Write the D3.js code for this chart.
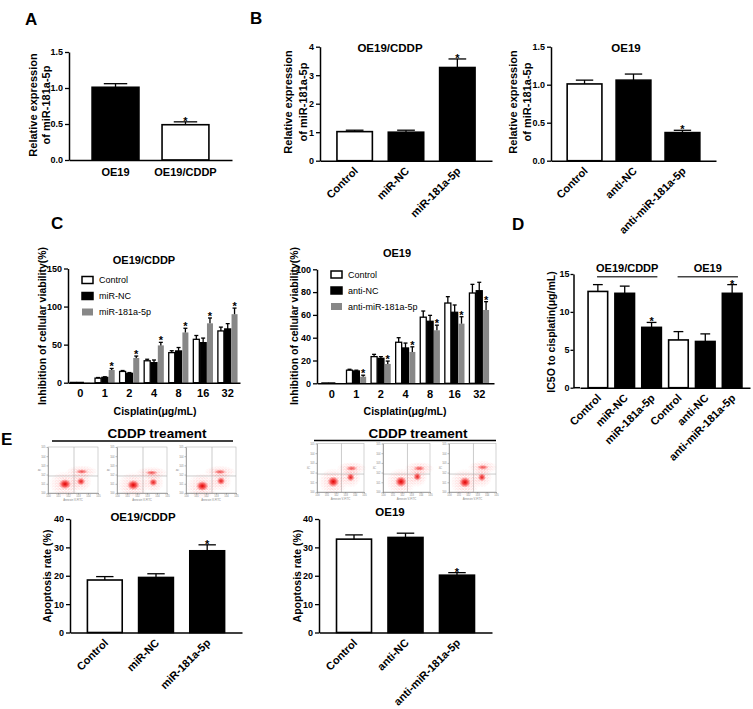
<!DOCTYPE html>
<html><head><meta charset="utf-8">
<script src="https://d3js.org/d3.v7.min.js"></script>
<style>body{margin:0;background:#fff;} svg{display:block}</style>
</head><body>
<svg id="fig" width="753" height="709" xmlns="http://www.w3.org/2000/svg"></svg>
<script>
// ---------------- DATA ----------------
const aCategories = ["OE19","OE19/CDDP"];
const aValues = [1.01, 0.49];
const aErrors = [0.05, 0.04];
const aStars = [false, true];
const aTicks = [0, 0.5, 1.0, 1.5];

const bLeftTitle = "OE19/CDDP";
const bLeftCategories = ["Control","miR-NC","miR-181a-5p"];
const bLeftValues = [1.02, 1.00, 3.27];
const bLeftErrors = [0.05, 0.07, 0.30];
const bLeftStars = [false, false, true];
const bLeftTicks = [0,1,2,3,4];
const bRightTitle = "OE19";
const bRightCategories = ["Control","anti-NC","anti-miR-181a-5p"];
const bRightValues = [1.01, 1.06, 0.37];
const bRightErrors = [0.05, 0.08, 0.03];
const bRightStars = [false, false, true];
const bRightTicks = [0, 0.5, 1.0, 1.5];

const cDoses = ["0","1","2","4","8","16","32"];
const cLeftTitle = "OE19/CDDP";
const cLeftSeriesNames = ["Control","miR-NC","miR-181a-5p"];
const cLeftControl    = [0.4, 6.0, 14.8, 28.8, 39.5, 57.0, 68.0];
const cLeftControlErr = [0, 0.8, 1.2, 2.0, 2.5, 5.0, 5.0];
const cLeftMiRNC      = [0.4, 7.0, 12.3, 26.3, 41.7, 52.6, 70.6];
const cLeftMiRNCErr   = [0, 0.8, 1.0, 3.5, 4.5, 6.0, 7.0];
const cLeftMiR181     = [0.4, 16.7, 32.5, 49.0, 66.0, 78.0, 90.0];
const cLeftMiR181Err  = [0, 2.0, 2.5, 4.0, 5.5, 7.0, 8.0];
const cLeftStars      = [false, true, true, true, true, true, true];
const cLeftTicks = [0,50,100,150];

const cRightTitle = "OE19";
const cRightSeriesNames = ["Control","anti-NC","anti-miR-181a-5p"];
const cRightControl    = [0.3, 11.5, 23.4, 36.0, 58.0, 70.4, 79.2];
const cRightControlErr = [0, 0.8, 2.0, 4.0, 5.4, 5.6, 7.6];
const cRightAntiNC     = [0.3, 10.8, 21.9, 31.0, 54.4, 62.3, 81.2];
const cRightAntiNCErr  = [0, 0.7, 1.5, 4.3, 5.2, 6.4, 7.4];
const cRightAntiMiR    = [0.3, 5.8, 17.0, 27.5, 46.5, 52.3, 64.3];
const cRightAntiMiRErr = [0, 1.3, 2.5, 4.5, 4.5, 6.1, 7.3];
const cRightStars      = [false, true, true, true, true, true, true];
const cRightTicks = [0,20,40,60,80,100];
const cXTitle = "Cisplatin(μg/mL)";
const cYTitle = "Inhibition of cellular viability(%)";

const dCategories = ["Control","miR-NC","miR-181a-5p","Control","anti-NC","anti-miR-181a-5p"];
const dValues = [12.7, 12.45, 7.96, 6.3, 6.1, 12.45];
const dErrors = [0.9, 0.95, 0.65, 1.1, 1.0, 1.15];
const dStars = [false, false, true, false, false, true];
const dWhite = [true, false, false, true, false, false];
const dGroupNames = ["OE19/CDDP","OE19"];
const dTicks = [0,5,10,15];

const eTreatment = "CDDP treament";
const eLeftTitle = "OE19/CDDP";
const eLeftCategories = ["Control","miR-NC","miR-181a-5p"];
const eLeftValues = [18.5, 19.4, 28.8];
const eLeftErrors = [1.2, 1.3, 2.1];
const eLeftStars = [false, false, true];
const eRightTitle = "OE19";
const eRightCategories = ["Control","anti-NC","anti-miR-181a-5p"];
const eRightValues = [32.9, 33.5, 20.2];
const eRightErrors = [1.5, 1.5, 0.9];
const eRightStars = [false, false, true];
const eTicks = [0,10,20,30,40];

// flow cytometry dot plots: cluster centres (log Annexin V-FITC, log PI)
const flowLeftLive  = [[1.70,0.97],[1.63,0.87],[1.63,0.76]];
const flowLeftEarly = [[3.30,1.25],[3.63,1.16],[3.50,1.30]];
const flowLeftLate  = [[3.38,2.33],[3.47,2.20],[3.40,2.30]];
const flowRightLive  = [[1.73,1.06],[1.91,1.06],[1.70,1.00]];
const flowRightEarly = [[3.58,1.52],[3.65,1.58],[3.50,1.52]];
const flowRightLate  = [[3.69,2.44],[3.86,2.44],[3.60,2.55]];
const flowGate = [2.6, 1.85];

// ---------------- DRAWING ----------------
const FF = "'Liberation Sans', Arial, Helvetica, sans-serif";
const svg = d3.select("#fig").attr("font-family", FF);

const defs = svg.append("defs");
const rg = defs.append("radialGradient").attr("id","blob");
rg.append("stop").attr("offset","0%").attr("stop-color","#e00000").attr("stop-opacity",1);
rg.append("stop").attr("offset","45%").attr("stop-color","#f01010").attr("stop-opacity",0.7);
rg.append("stop").attr("offset","100%").attr("stop-color","#ff3030").attr("stop-opacity",0);
const fg = defs.append("radialGradient").attr("id","fadeGrad");
fg.append("stop").attr("offset","0%").attr("stop-color","#fff").attr("stop-opacity",1);
fg.append("stop").attr("offset","100%").attr("stop-color","#fff").attr("stop-opacity",0);
defs.append("mask").attr("id","fade").attr("maskContentUnits","objectBoundingBox")
  .append("rect").attr("width",1).attr("height",1).attr("fill","url(#fadeGrad)");
const pat = defs.append("pattern").attr("id","speck").attr("patternUnits","userSpaceOnUse")
  .attr("width",3.2).attr("height",2.8);
[[0.4,0.5],[1.9,1.1],[1.0,2.2],[2.7,2.0]].forEach(p =>
  pat.append("rect").attr("x",p[0]).attr("y",p[1]).attr("width",0.7).attr("height",0.7).attr("fill","#f22"));

function txt(g, x, y, s, size, opts = {}) {
  return g.append("text").attr("x", x).attr("y", y).text(s)
    .attr("font-size", size).attr("font-weight", opts.weight || "bold")
    .attr("text-anchor", opts.anchor || "middle").attr("fill", opts.fill || "#000");
}
function vtxt(g, x, y, s, size) {
  return g.append("text").attr("transform", `translate(${x},${y}) rotate(-90)`)
    .attr("text-anchor", "middle").attr("font-size", size).attr("font-weight", "bold").text(s);
}
function drawYAxis(g, y, x0, ticks, fmt, tsize, tpad) {
  const a = g.append("g").attr("transform", `translate(${x0},0)`)
    .call(d3.axisLeft(y).tickValues(ticks).tickFormat(fmt).tickSize(tsize || 4).tickSizeOuter(0).tickPadding(tpad === undefined ? 2 : tpad));
  a.attr("font-family", FF);
  a.select(".domain").attr("stroke", "#000").attr("stroke-width", 1.5);
  a.selectAll(".tick line").attr("stroke", "#000").attr("stroke-width", 1.3);
  a.selectAll(".tick text").attr("font-size", 9).attr("font-weight", "bold").attr("fill", "#000");
}
function errBar(g, cx, yTop, yBar, cap) {
  g.append("line").attr("x1", cx).attr("x2", cx).attr("y1", yBar).attr("y2", yTop)
    .attr("stroke", "#000").attr("stroke-width", 1.3);
  g.append("line").attr("x1", cx - cap / 2).attr("x2", cx + cap / 2).attr("y1", yTop).attr("y2", yTop)
    .attr("stroke", "#000").attr("stroke-width", 1.3);
}
function star(g, cx, yTop, size) {
  txt(g, cx, yTop + 3, "*", size || 11);
}

function barChart(cfg) {
  const g = svg.append("g");
  const y = d3.scaleLinear().domain([0, cfg.max]).range([cfg.yb, cfg.yt]);
  const idx = cfg.cats.map((_, i) => i);
  const x = d3.scaleBand().domain(idx).range([cfg.x0, cfg.x1]).paddingInner(cfg.pi).paddingOuter(cfg.po);
  const bw = x.bandwidth();
  g.selectAll("rect.bar").data(cfg.vals).join("rect").attr("class", "bar")
    .attr("x", (d, i) => x(i)).attr("y", d => y(d))
    .attr("width", bw).attr("height", d => cfg.yb - y(d))
    .attr("fill", (d, i) => cfg.white[i] ? "#fff" : "#000")
    .attr("stroke", "#000").attr("stroke-width", 1.6);
  cfg.vals.forEach((v, i) => {
    const cx = x(i) + bw / 2;
    errBar(g, cx, y(v + cfg.errs[i]), y(v), bw * 0.5);
    if (cfg.stars[i]) star(g, cx, y(v + cfg.errs[i]));
  });
  const xa = g.append("g").attr("transform", `translate(0,${cfg.yb})`)
    .call(d3.axisBottom(x).tickSize(0).tickSizeOuter(0).tickFormat(i => cfg.cats[i]));
  xa.attr("font-family", FF);
  xa.select(".domain").attr("stroke", "#000").attr("stroke-width", 1.5);
  if (cfg.axisStart !== undefined) {
    g.append("line").attr("x1", cfg.axisStart).attr("x2", cfg.x0).attr("y1", cfg.yb).attr("y2", cfg.yb)
      .attr("stroke", "#000").attr("stroke-width", 1.5);
  }
  const tt = xa.selectAll(".tick text").attr("font-size", 11).attr("font-weight", "bold").attr("fill", "#000");
  if (cfg.rotate) tt.attr("text-anchor", "end").attr("y", 0).attr("dy", 0).attr("transform", "translate(4,11) rotate(-45)");
  else tt.attr("y", 8).attr("dy", "0.71em");
  drawYAxis(g, y, cfg.axisStart !== undefined ? cfg.axisStart : cfg.x0, cfg.ticks, cfg.fmt, cfg.tsize, cfg.tpad);
  return { g, x, y };
}

function groupedChart(cfg) {
  const g = svg.append("g");
  const y = d3.scaleLinear().domain([0, cfg.max]).range([cfg.yb, cfg.yt]);
  const xg = d3.scaleBand().domain(cfg.doses).range([cfg.x0, cfg.x1]).paddingInner(0.2).paddingOuter(cfg.po);
  const xs = d3.scaleBand().domain([0, 1, 2]).range([0, xg.bandwidth()]).paddingInner(0.12);
  const styles = [{ fill: "#fff", stroke: "#000" }, { fill: "#000", stroke: "#000" }, { fill: "#878787", stroke: "none" }];
  cfg.series.forEach((s, si) => {
    s.vals.forEach((v, di) => {
      const bx = xg(cfg.doses[di]) + xs(si);
      const w = xs.bandwidth();
      g.append("rect").attr("x", bx).attr("y", y(v)).attr("width", w).attr("height", cfg.yb - y(v))
        .attr("fill", styles[si].fill).attr("stroke", styles[si].stroke).attr("stroke-width", 1.3);
      if (s.errs[di] > 0) {
        errBar(g, bx + w / 2, y(v + s.errs[di]), y(v), 4);
        if (s.stars && s.stars[di]) star(g, bx + w / 2, y(v + s.errs[di]) - 1, 11);
      }
    });
  });
  const xa = g.append("g").attr("transform", `translate(0,${cfg.yb})`)
    .call(d3.axisBottom(xg).tickSize(0).tickSizeOuter(0));
  xa.attr("font-family", FF);
  xa.select(".domain").attr("stroke", "#000").attr("stroke-width", 1.5);
  xa.selectAll(".tick text").attr("font-size", 11).attr("font-weight", "bold").attr("fill", "#000")
    .attr("y", 7).attr("dy", "0.71em");
  drawYAxis(g, y, cfg.x0, cfg.ticks, d3.format("d"));
  cfg.series.forEach((s, si) => {
    const ly = cfg.legY + si * cfg.legStep;
    g.append("rect").attr("x", cfg.legX).attr("y", ly - 3.5).attr("width", 11).attr("height", 7)
      .attr("fill", styles[si].fill).attr("stroke", styles[si].stroke).attr("stroke-width", 1.5);
    txt(g, cfg.legX + 17, ly + 3.3, s.name, 9, { anchor: "start", weight: "normal" });
  });
  return g;
}

function flowPlot(x0, yt, w, h, live, early, late) {
  const g = svg.append("g");
  const fx = d3.scaleLinear().domain([0, 5]).range([x0, x0 + w]);
  const fy = d3.scaleLinear().domain([0, 5]).range([yt + h, yt]);
  g.append("rect").attr("x", x0).attr("y", yt).attr("width", w).attr("height", h)
    .attr("fill", "none").attr("stroke", "#b5b5b5").attr("stroke-width", 0.6);
  g.append("line").attr("x1", fx(flowGate[0])).attr("x2", fx(flowGate[0])).attr("y1", yt).attr("y2", yt + h)
    .attr("stroke", "#a8a8a8").attr("stroke-width", 0.6);
  g.append("line").attr("x1", x0).attr("x2", x0 + w).attr("y1", fy(flowGate[1])).attr("y2", fy(flowGate[1]))
    .attr("stroke", "#a8a8a8").attr("stroke-width", 0.6);
  const blobs = [
    { c: live, rx: 0.62, ry: 0.55, op: 1 },
    { c: early, rx: 0.42, ry: 0.42, op: 0.85 },
    { c: late, rx: 0.62, ry: 0.26, op: 0.6 }
  ];
  const kx = w / 5, ky = h / 5;
  blobs.forEach(b => {
    g.append("ellipse").attr("cx", fx(b.c[0])).attr("cy", fy(b.c[1]))
      .attr("rx", b.rx * kx * 2.6).attr("ry", b.ry * ky * 2.6).attr("fill", "url(#speck)")
      .attr("mask", "url(#fade)").attr("opacity", 0.9);
    g.append("ellipse").attr("cx", fx(b.c[0])).attr("cy", fy(b.c[1]))
      .attr("rx", b.rx * kx).attr("ry", b.ry * ky).attr("fill", "url(#blob)").attr("opacity", b.op);
  });
  const la = g.append("g").attr("transform", `translate(${x0},0)`)
    .call(d3.axisLeft(fy).tickValues([0, 1, 2, 3, 4, 5]).tickSize(1.5).tickSizeOuter(0).tickPadding(1)
      .tickFormat(d => "10" + d));
  const ba = g.append("g").attr("transform", `translate(0,${yt + h})`)
    .call(d3.axisBottom(fx).tickValues([0, 1, 2, 3, 4, 5]).tickSize(1.5).tickSizeOuter(0).tickPadding(1)
      .tickFormat(d => "10" + d));
  [la, ba].forEach(a => {
    a.attr("font-family", FF);
    a.select(".domain").attr("stroke", "#777").attr("stroke-width", 0.6);
    a.selectAll(".tick line").attr("stroke", "#777").attr("stroke-width", 0.5);
    a.selectAll(".tick text").attr("font-size", 2.6).attr("fill", "#888");
  });
  txt(g, x0 + w / 2, yt + h + 8, "Annexin V-FITC", 2.8, { weight: "normal", fill: "#888" });
  g.append("text").attr("transform", `translate(${x0 - 7},${yt + h / 2}) rotate(-90)`)
    .attr("text-anchor", "middle").attr("font-size", 2.8).attr("fill", "#888").text("PI");
}

// ---------- panel letters ----------
const L = svg.append("g");
txt(L, 25, 25, "A", 17, { anchor: "start" });
txt(L, 250, 23.5, "B", 17, { anchor: "start" });
txt(L, 51, 229, "C", 17, { anchor: "start" });
txt(L, 512, 229.5, "D", 17, { anchor: "start" });
txt(L, 1, 445, "E", 17, { anchor: "start" });

// ---------- A ----------
const A = barChart({ cats: aCategories, vals: aValues, errs: aErrors, stars: aStars, white: [false, true],
  max: 1.5, yb: 160, yt: 52, x0: 69, x1: 232, pi: 0.33, po: 0.33, ticks: aTicks, fmt: d3.format(".1f"), rotate: false });
vtxt(A.g, 36.5, 105, "Relative expression", 11);
vtxt(A.g, 49.5, 105, "of miR-181a-5p", 11);

// ---------- B ----------
const BL = barChart({ cats: bLeftCategories, vals: bLeftValues, errs: bLeftErrors, stars: bLeftStars, white: [true, false, false],
  max: 4, yb: 160.7, yt: 46.7, x0: 320, x1: 492, pi: 0.31, po: 0.33, ticks: bLeftTicks, fmt: d3.format("d"), rotate: true });
txt(BL.g, 390, 52, bLeftTitle, 11.5);
vtxt(BL.g, 292, 102, "Relative expression", 11);
vtxt(BL.g, 307, 102, "of miR-181a-5p", 11);

const BR = barChart({ cats: bRightCategories, vals: bRightValues, errs: bRightErrors, stars: bRightStars, white: [true, false, false],
  max: 1.5, yb: 160.7, yt: 46.7, x0: 551, x1: 716, pi: 0.29, po: 0.33, ticks: bRightTicks, fmt: d3.format(".1f"), rotate: true });
txt(BR.g, 626, 52, bRightTitle, 11.5);
vtxt(BR.g, 517, 102, "Relative expression", 11);
vtxt(BR.g, 530.5, 102, "of miR-181a-5p", 11);

// ---------- C ----------
const CL = groupedChart({ doses: cDoses, max: 150, yb: 382.7, yt: 268.5, x0: 68, x1: 240, po: 0.1, ticks: cLeftTicks,
  series: [
    { name: cLeftSeriesNames[0], vals: cLeftControl, errs: cLeftControlErr },
    { name: cLeftSeriesNames[1], vals: cLeftMiRNC, errs: cLeftMiRNCErr },
    { name: cLeftSeriesNames[2], vals: cLeftMiR181, errs: cLeftMiR181Err, stars: cLeftStars }
  ], legX: 82, legY: 280, legStep: 16 });
txt(CL, 144, 264, cLeftTitle, 11);
txt(CL, 155, 415, cXTitle, 10.5);
vtxt(CL, 46, 326, cYTitle, 10.5);

const CR = groupedChart({ doses: cDoses, max: 100, yb: 383.3, yt: 269.3, x0: 317, x1: 494, po: 0.2, ticks: cRightTicks,
  series: [
    { name: cRightSeriesNames[0], vals: cRightControl, errs: cRightControlErr },
    { name: cRightSeriesNames[1], vals: cRightAntiNC, errs: cRightAntiNCErr },
    { name: cRightSeriesNames[2], vals: cRightAntiMiR, errs: cRightAntiMiRErr, stars: cRightStars }
  ], legX: 331, legY: 274.5, legStep: 16 });
txt(CR, 397, 257, cRightTitle, 11);
txt(CR, 405, 415, cXTitle, 10.5);
vtxt(CR, 297.5, 326, cYTitle, 10.5);

// ---------- D ----------
const D = barChart({ cats: dCategories, vals: dValues, errs: dErrors, stars: dStars, white: dWhite,
  max: 15, yb: 387.7, yt: 274, x0: 580, x1: 750, axisStart: 573.5, pi: 0.27, po: 0.3, ticks: dTicks,
  fmt: d3.format("d"), rotate: true, tsize: 3, tpad: 1 });
vtxt(D.g, 555, 332, "IC5O to cisplatin(μg/mL)", 10.5);
[[0, 2], [3, 5]].forEach((r, k) => {
  const xa = D.x(r[0]) + 9, xb = D.x(r[1]) + D.x.bandwidth() - 4;
  D.g.append("line").attr("x1", xa).attr("x2", xb).attr("y1", 276.7).attr("y2", 276.7)
    .attr("stroke", "#444").attr("stroke-width", 1.5);
  txt(D.g, (xa + xb) / 2, 272, dGroupNames[k], 11);
});

// ---------- E ----------
const EG = svg.append("g");
txt(EG, 157, 438, eTreatment, 13.5);
EG.append("line").attr("x1", 52).attr("x2", 233).attr("y1", 441).attr("y2", 441).attr("stroke", "#000").attr("stroke-width", 1.5);
txt(EG, 418, 437.5, eTreatment, 13.5);
EG.append("line").attr("x1", 314).attr("x2", 496).attr("y1", 440.5).attr("y2", 440.5).attr("stroke", "#000").attr("stroke-width", 1.5);

[48, 117, 186].forEach((px, i) => flowPlot(px, 447, 50, 46, flowLeftLive[i], flowLeftEarly[i], flowLeftLate[i]));
[317, 383, 449].forEach((px, i) => flowPlot(px, 443.5, 47, 48.5, flowRightLive[i], flowRightEarly[i], flowRightLate[i]));

const EL = barChart({ cats: eLeftCategories, vals: eLeftValues, errs: eLeftErrors, stars: eLeftStars, white: [true, false, false],
  max: 40, yb: 632.5, yt: 519, x0: 70, x1: 242, pi: 0.32, po: 0.34, ticks: eTicks, fmt: d3.format("d"), rotate: true });
txt(EL.g, 143, 521, eLeftTitle, 11.5);
vtxt(EL.g, 51, 576, "Apoptosis rate (%)", 10.5);

const ER = barChart({ cats: eRightCategories, vals: eRightValues, errs: eRightErrors, stars: eRightStars, white: [true, false, false],
  max: 40, yb: 632.5, yt: 519, x0: 319, x1: 492, pi: 0.32, po: 0.34, ticks: eTicks, fmt: d3.format("d"), rotate: true });
txt(ER.g, 390, 516, eRightTitle, 11.5);
vtxt(ER.g, 301, 576, "Apoptosis rate (%)", 10.5);
</script>
</body></html>
